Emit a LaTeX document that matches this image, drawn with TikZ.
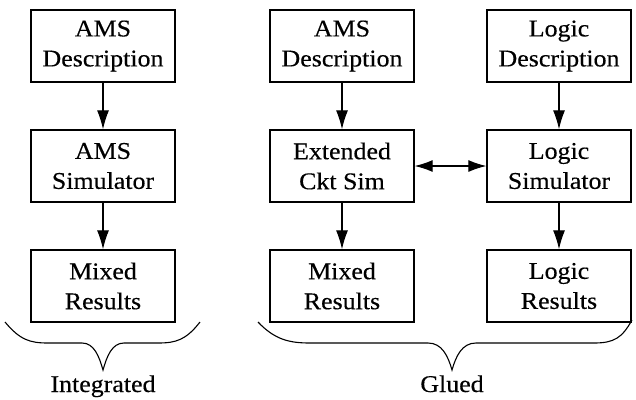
\documentclass[tikz,border=0pt]{standalone}
\usepackage{fontspec}
\setmainfont{Liberation Serif}[FakeStretch=1.08,FakeBold=0.4]
\usetikzlibrary{arrows.meta}

\tikzset{
  simbox/.style={draw,line width=1.4pt,minimum width=144pt,minimum height=72pt,
    inner sep=0pt,align=center,font=\fontsize{24}{30}\selectfont},
  flow/.style={-{Latex[length=19pt,width=12pt]},line width=1.1pt},
  both/.style={{Latex[length=18pt,width=12pt]}-{Latex[length=18pt,width=12pt]},line width=1.1pt},
  brace/.style={line width=1.1pt},
  tag/.style={anchor=base,font=\fontsize{24}{30}\selectfont}
}

\begin{document}
\begin{tikzpicture}[x=1pt,y=1pt,node distance=120pt]
      \useasboundingbox (0,0) rectangle (636,-399);
      \node[simbox] (1) at (103,-46) {AMS\\Description};
      \node[simbox,below of=1] (2) {AMS\\Simulator};
      \node[simbox,below of=2] (3) {Mixed\\Results};
      \node[simbox,right of=1,xshift=119pt] (4) {AMS\\Description};
      \node[simbox,below of=4] (5) {Extended\\Ckt Sim};
      \node[simbox,below of=5] (6) {Mixed\\Results};
      \node[simbox,right of=4,xshift=97pt] (7) {Logic\\Description};
      \node[simbox,below of=7] (8) {Logic\\Simulator};
      \node[simbox,below of=8] (9) {Logic\\Results};

      \draw[flow] (1) -- (2);
      \draw[flow] (2) -- (3);
      \draw[flow] (4) -- (5);
      \draw[flow] (5) -- (6);
      \draw[flow] (7) -- (8);
      \draw[flow] (8) -- (9);
      \draw[both] (5) -- (8);

      % braces under the two groups
      \draw[brace] (5,-322) .. controls (20,-340) and (30,-343) .. (48,-343)
        -- (82,-343) .. controls (94,-343) and (99,-356) .. (103,-370)
        .. controls (107,-356) and (112,-343) .. (124,-343)
        -- (158,-343) .. controls (176,-343) and (186,-340) .. (200,-322);
      \draw[brace] (258,-322) .. controls (275,-340) and (290,-343) .. (310,-343)
        -- (428,-343) .. controls (442,-343) and (448,-356) .. (452,-370)
        .. controls (456,-356) and (462,-343) .. (476,-343)
        -- (594,-343) .. controls (614,-343) and (622,-338) .. (632,-320);

      \node[tag] (int) at (103,-392) {Integrated};
      \node[tag] (glu) at (452,-392) {Glued};
    \end{tikzpicture}
\end{document}
